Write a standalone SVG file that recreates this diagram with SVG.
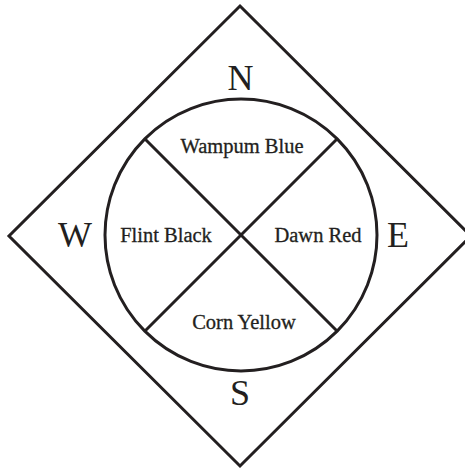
<svg xmlns="http://www.w3.org/2000/svg" width="465" height="471" viewBox="0 0 465 471">
<style>
.ln{fill:none;stroke:#231f20;stroke-width:3;stroke-linejoin:miter}
.dir{font-family:"Liberation Serif","Times New Roman",serif;font-size:36px;fill:#231f20;text-anchor:middle}
.lbl{font-family:"Liberation Serif","Times New Roman",serif;font-size:20.5px;fill:#231f20;text-anchor:middle;stroke:#231f20;stroke-width:0.3}
</style>
<rect width="465" height="471" fill="#fff"/>
<g id="diamond"><polygon class="ln" points="240,6 471,236 240,466 9,236"/></g>
<g id="circle"><circle class="ln" cx="241" cy="235" r="136"/></g>
<g id="connectors">
<line class="ln" x1="145" y1="139" x2="337" y2="331"/>
<line class="ln" x1="337" y1="139" x2="145" y2="331"/>
</g>
<g id="N"><text class="dir" x="240.5" y="90">N</text></g>
<g id="W"><text class="dir" x="75" y="247">W</text></g>
<g id="E"><text class="dir" x="398" y="247">E</text></g>
<g id="S"><text class="dir" x="240" y="405">S</text></g>
<g id="wampum"><text class="lbl" x="242" y="153">Wampum Blue</text></g>
<g id="flint"><text class="lbl" x="166" y="242">Flint Black</text></g>
<g id="dawn"><text class="lbl" x="318" y="242">Dawn Red</text></g>
<g id="corn"><text class="lbl" x="244" y="329">Corn Yellow</text></g>
</svg>
